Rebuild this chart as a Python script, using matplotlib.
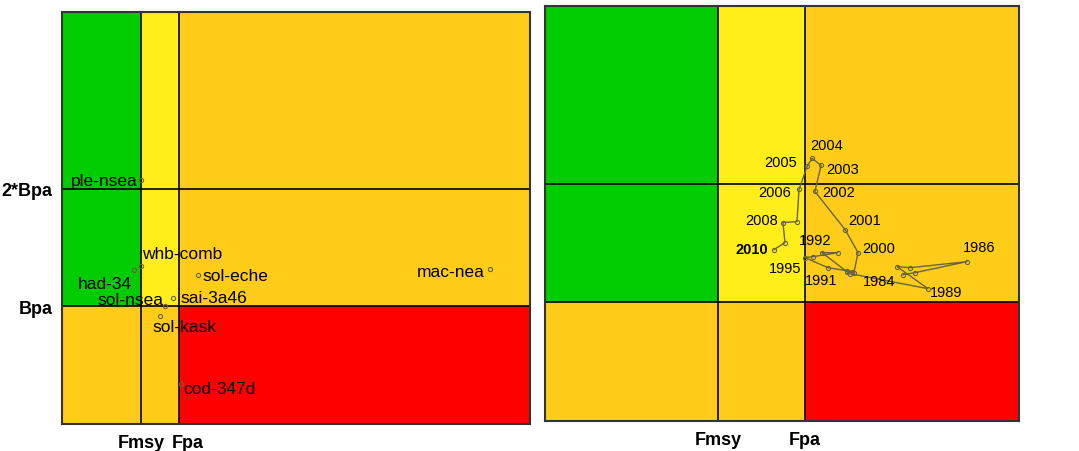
import matplotlib.pyplot as plt
from matplotlib.patches import Rectangle
from matplotlib.transforms import ScaledTranslation

plt.rcParams['font.family'] = ['Liberation Sans', 'DejaVu Sans']

## REFERENCE POINTS (relative units, Fpa = 1, Bpa = 1) ##
FPA = 1.0
BPA = 1.0
FMSY_L = 0.675
FMSY_R = 0.665
XMAX_L = 4.0
XMAX_R = 1.823
YMAX = 3.5

## LEFT PANEL: stocks ##
STOCKS = ["ple-nsea", "had-34", "whb-comb", "sol-eche", "sai-3a46",
          "sol-nsea", "sol-kask", "cod-347d", "mac-nea"]
STOCK_F = [0.675, 0.615, 0.675, 1.162, 0.949, 0.880, 0.838, 1.017, 3.658]
STOCK_B = [2.076, 1.305, 1.339, 1.263, 1.068, 1.000, 0.915, 0.339, 1.314]

## RIGHT PANEL: trajectory ##
YEARS = list(range(1984, 2011))
TRAJ_F = [1.377, 1.423, 1.623, 1.404, 1.354, 1.473, 1.173, 1.161, 1.065,
          1.127, 1.031, 1.000, 1.088, 1.161, 1.181, 1.188, 1.204, 1.154,
          1.038, 1.062, 1.027, 1.008, 0.977, 0.969, 0.915, 0.923, 0.881]
TRAJ_B = [1.234, 1.251, 1.344, 1.293, 1.302, 1.116, 1.243, 1.260, 1.420,
          1.420, 1.386, 1.378, 1.293, 1.268, 1.260, 1.251, 1.420, 1.615,
          1.936, 2.156, 2.215, 2.147, 1.953, 1.682, 1.674, 1.505, 1.446]
LABEL_YEARS = [1984, 1986, 1989, 1991, 1992, 1995, 2000, 2001, 2002,
               2003, 2004, 2005, 2006, 2008, 2010]

# label placement (pixel offsets, alignment)
STOCK_POS = {
    "ple-nsea": (-3, -1, "right"), "had-34": (-29, -13, "center"),
    "whb-comb": (1, 13, "left"), "sol-eche": (4, 0, "left"),
    "sai-3a46": (7, 1, "left"), "sol-nsea": (-2, 7, "right"),
    "sol-kask": (24, -10, "center"), "cod-347d": (2, -4, "left"),
    "mac-nea": (-5, -2, "right"),
}
YEAR_POS = {
    2004: (-2, 13, "left"), 2005: (-10, 4, "right"), 2003: (5, -4, "left"),
    2006: (-8, -3, "right"), 2002: (7, -1, "left"), 2008: (-5, 3, "right"),
    2001: (3, 10, "left"), 2010: (-6, 1, "right"), 1992: (-7, 13, "center"),
    2000: (4, 5, "left"), 1995: (-4, -10, "right"), 1991: (-26, -8, "center"),
    1984: (-24, -6, "center"), 1986: (12, 15, "center"), 1989: (2, -3, "left"),
}

GREEN = "#00cc00"
YELLOW = "#ffee1a"
ORANGE = "#ffcc1a"
RED = "#ff0000"
PT = "#66663a"


def background(ax, fmsy, xmax):
    zones = [
        (0, fmsy, BPA, YMAX, GREEN), (fmsy, FPA, BPA, YMAX, YELLOW),
        (FPA, xmax, BPA, YMAX, ORANGE), (0, FPA, 0, BPA, ORANGE),
        (FPA, xmax, 0, BPA, RED),
    ]
    for x0, x1, y0, y1, c in zones:
        ax.add_patch(Rectangle((x0, y0), x1 - x0, y1 - y0, color=c, lw=0, zorder=0))
    for x in (fmsy, FPA):
        ax.axvline(x, color="black", lw=1.2, zorder=1)
    for y in (BPA, 2 * BPA):
        ax.axhline(y, color="black", lw=1.2, zorder=1)
    ax.set_xlim(0, xmax)
    ax.set_ylim(0, YMAX)
    ax.set_xticks([fmsy, FPA])
    ax.set_xticklabels(["Fmsy", "Fpa"], fontsize=13, fontweight="bold")
    ax.tick_params(length=0, pad=7)
    for s in ax.spines.values():
        s.set_linewidth(1.5)
        s.set_color("#333333")


fig = plt.figure(figsize=(10.79, 4.52), dpi=100)
axL = fig.add_axes([0.0575, 0.0597, 0.4337, 0.9115])
axR = fig.add_axes([0.5051, 0.0664, 0.4393, 0.918])

background(axL, FMSY_L, XMAX_L)
axL.set_yticks([BPA, 2 * BPA])
axL.set_yticklabels(["Bpa", "2*Bpa"], fontsize=13, fontweight="bold")
# nudge the Fpa label right so it does not touch Fmsy
fpa_lab = axL.get_xticklabels()[1]
fpa_lab.set_transform(fpa_lab.get_transform() + ScaledTranslation(0.09, 0, fig.dpi_scale_trans))
axL.plot(STOCK_F, STOCK_B, "o", ms=3, mfc="none", mec=PT, mew=0.8, zorder=3)
for name, f, b in zip(STOCKS, STOCK_F, STOCK_B):
    dx, dy, ha = STOCK_POS[name]
    axL.annotate(name, (f, b), xytext=(dx, dy), textcoords="offset pixels",
                 ha=ha, va="center", fontsize=12.5, zorder=4)

background(axR, FMSY_R, XMAX_R)
axR.set_yticks([])
axR.plot(TRAJ_F, TRAJ_B, "-o", color=PT, lw=1, ms=3, mfc="none", mew=0.8, zorder=3)
for yr in LABEL_YEARS:
    i = YEARS.index(yr)
    dx, dy, ha = YEAR_POS[yr]
    axR.annotate(str(yr), (TRAJ_F[i], TRAJ_B[i]), xytext=(dx, dy),
                 textcoords="offset pixels", ha=ha, va="center", fontsize=10.5,
                 fontweight="bold" if yr == 2010 else "normal", zorder=4)

fig.savefig("out.png", dpi=100)
